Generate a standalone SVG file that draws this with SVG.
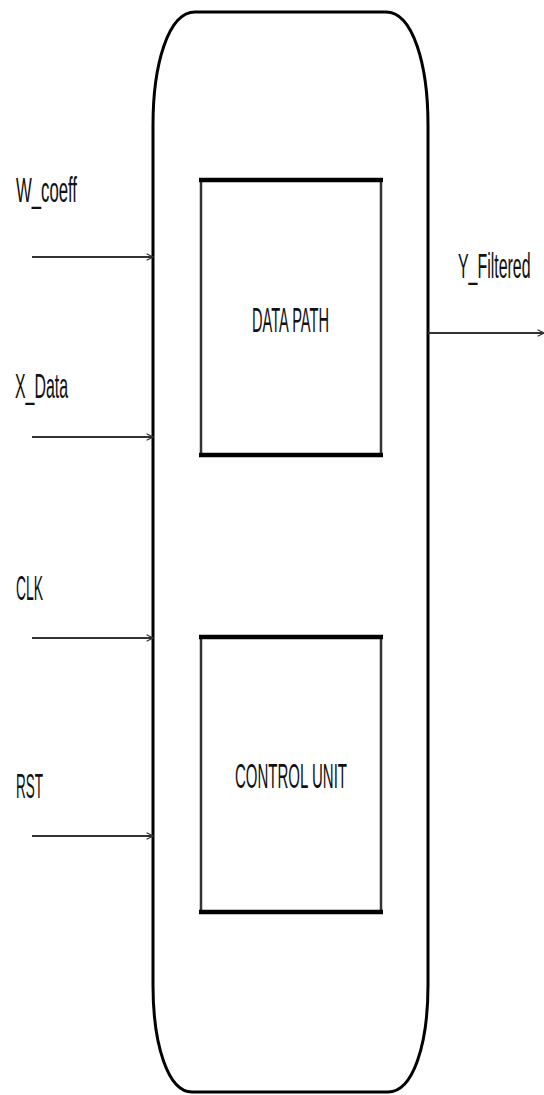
<svg xmlns="http://www.w3.org/2000/svg" width="544" height="1095" viewBox="0 0 544 1095">
<style>
.lbl{font-family:"Liberation Sans","DejaVu Sans",sans-serif;font-size:35px;fill:#111;}
.wire{stroke:#333;stroke-width:2;fill:none;}
.side{stroke:#333;stroke-width:2.5;}
.edge{stroke:#000;stroke-width:4.5;}
</style>
<defs>
<marker id="arr" viewBox="0 0 10 10" refX="9" refY="5" markerWidth="8" markerHeight="8" markerUnits="userSpaceOnUse" orient="auto">
<path d="M1,1 L9,5 L1,9" fill="none" stroke="#333" stroke-width="1.5"/>
</marker>
</defs>
<rect width="544" height="1095" fill="#fff"/>
<g id="chip">
<path d="M195,12 H386 C413,12 428,65 428,125 V985 C428,1045 413,1092 388,1092 H192 C168,1092 153,1045 153,985 V125 C153,65 168,12 195,12 Z" fill="none" stroke="#000" stroke-width="3"/>
</g>
<g id="datapath">
<line class="side" x1="201" y1="180" x2="201" y2="455"/>
<line class="side" x1="381" y1="180" x2="381" y2="455"/>
<line class="edge" x1="199" y1="180" x2="383" y2="180"/>
<line class="edge" x1="199" y1="455" x2="383" y2="455"/>
<text class="lbl" x="252" y="332" textLength="77" lengthAdjust="spacingAndGlyphs">DATA PATH</text>
</g>
<g id="controlunit">
<line class="side" x1="201" y1="637" x2="201" y2="912"/>
<line class="side" x1="381" y1="637" x2="381" y2="912"/>
<line class="edge" x1="199" y1="637" x2="383" y2="637"/>
<line class="edge" x1="199" y1="912" x2="383" y2="912"/>
<text class="lbl" x="235" y="788" textLength="112" lengthAdjust="spacingAndGlyphs">CONTROL UNIT</text>
</g>
<g id="labels">
<text class="lbl" x="16" y="202" textLength="61" lengthAdjust="spacingAndGlyphs">W_coeff</text>
<text class="lbl" x="15" y="398" textLength="53" lengthAdjust="spacingAndGlyphs">X_Data</text>
<text class="lbl" x="16" y="600" textLength="27" lengthAdjust="spacingAndGlyphs">CLK</text>
<text class="lbl" x="16" y="798" textLength="27" lengthAdjust="spacingAndGlyphs">RST</text>
<text class="lbl" transform="translate(458,278) scale(0.455,1)">Y_Filtered</text>
</g>
<g id="connectors">
<line class="wire" x1="32" y1="257" x2="153" y2="257" marker-end="url(#arr)"/>
<line class="wire" x1="32" y1="437" x2="153" y2="437" marker-end="url(#arr)"/>
<line class="wire" x1="32" y1="638" x2="153" y2="638" marker-end="url(#arr)"/>
<line class="wire" x1="32" y1="836" x2="153" y2="836" marker-end="url(#arr)"/>
<line class="wire" x1="428" y1="333" x2="544" y2="333" marker-end="url(#arr)"/>
</g>
</svg>
